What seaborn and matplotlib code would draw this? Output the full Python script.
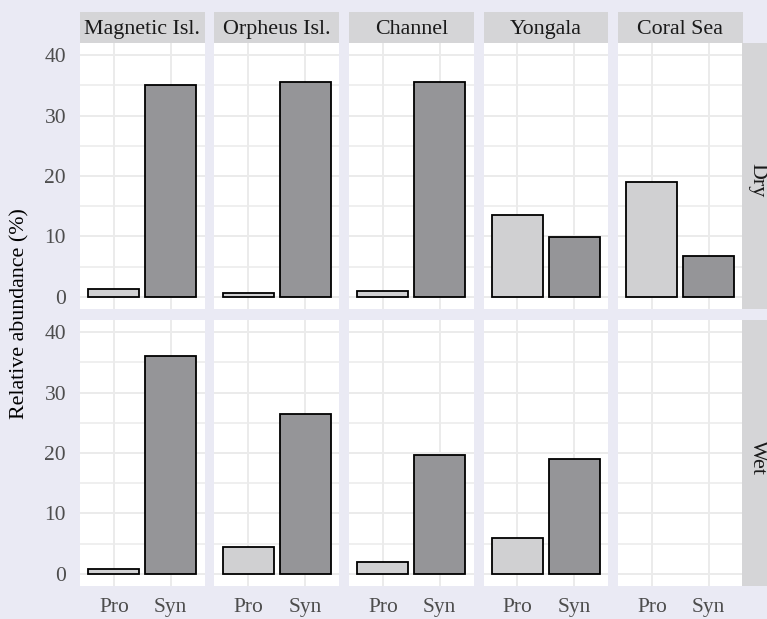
import matplotlib
matplotlib.use("Agg")
import matplotlib.pyplot as plt
import pandas as pd
import seaborn as sns
from matplotlib.ticker import MultipleLocator, FixedLocator

# Relative abundance of Prochlorococcus (Pro) and Synechococcus (Syn) by site and season
sites = ["Magnetic Isl.", "Orpheus Isl.", "Channel", "Yongala", "Coral Sea"]
seasons = ["Dry", "Wet"]
taxa = ["Pro", "Syn"]
dry_pro = [1.3, 0.7, 1.0, 13.5, 19.0]
dry_syn = [35.1, 35.6, 35.5, 9.9, 6.8]
wet_pro = [0.8, 4.4, 1.9, 5.9, None]
wet_syn = [36.0, 26.4, 19.7, 19.0, None]
y_ticks = [0, 10, 20, 30, 40]

rows = []
for season, pro, syn in (("Dry", dry_pro, dry_syn), ("Wet", wet_pro, wet_syn)):
    for site, p, s in zip(sites, pro, syn):
        if p is not None:
            rows.append({"site": site, "season": season, "taxon": "Pro", "abundance": p})
        if s is not None:
            rows.append({"site": site, "season": season, "taxon": "Syn", "abundance": s})
df = pd.DataFrame(rows)

sns.set_theme(style="white")
plt.rcParams["font.family"] = ["Liberation Serif", "DejaVu Serif"]

BG = "#EAEAF4"
STRIP = "#D5D5D7"
GRID = "#EBEBEB"
palette = {"Pro": "#D0D0D2", "Syn": "#949498"}

W, H = 767, 619
fig = plt.figure(figsize=(W / 100, H / 100), dpi=100, facecolor=BG)


def frac(x, y, w, h):
    return [x / W, (H - y - h) / H, w / W, h / H]


col_left = [80 + 134.5 * i for i in range(5)]
col_w = 124.5
row_top = [43, 320]
row_h = 266
strip_h = 31

for r, season in enumerate(seasons):
    for c, site in enumerate(sites):
        ax = fig.add_axes(frac(col_left[c], row_top[r], col_w, row_h))
        ax.set_facecolor("white")
        sub = df[(df.site == site) & (df.season == season)]
        if len(sub):
            sns.barplot(data=sub, x="taxon", y="abundance", hue="taxon",
                        order=taxa, hue_order=taxa, palette=palette,
                        width=0.9, edgecolor="black", linewidth=1.3,
                        legend=False, ax=ax, zorder=3)
        ax.set_xlim(-0.6, 1.6)
        ax.set_ylim(-2, 42)
        ax.xaxis.set_major_locator(FixedLocator([0, 1]))
        ax.yaxis.set_major_locator(FixedLocator(y_ticks))
        ax.yaxis.set_minor_locator(MultipleLocator(5))
        ax.grid(True, which="major", color=GRID, linewidth=1.4, zorder=0)
        ax.grid(True, which="minor", axis="y", color=GRID, linewidth=1.1, zorder=0)
        ax.set_axisbelow(True)
        for sp in ax.spines.values():
            sp.set_visible(False)
        ax.set_xlabel("")
        ax.set_ylabel("")
        ax.tick_params(which="minor", length=0)
        ax.tick_params(which="major", length=4, width=1.0, color="#333333",
                       labelsize=15.5, labelcolor="#4D4D4D")
        ax.tick_params(axis="y", pad=6)
        ax.tick_params(axis="x", pad=4.5)
        if c == 0:
            ax.set_yticklabels([str(t) for t in y_ticks])
        else:
            ax.tick_params(axis="y", length=0, labelleft=False)
        if r == 1:
            ax.set_xticks([0, 1])
            ax.set_xticklabels(taxa)
        else:
            ax.tick_params(axis="x", length=0, labelbottom=False)

        if r == 0:
            sax = fig.add_axes(frac(col_left[c], 12, col_w, strip_h))
            sax.set_facecolor(STRIP)
            sax.set_xticks([]); sax.set_yticks([])
            for sp in sax.spines.values():
                sp.set_visible(False)
            sax.text(0.5, 0.45, site, ha="center", va="center",
                     fontsize=15.8, color="#1A1A1A", transform=sax.transAxes)

    rax = fig.add_axes(frac(742, row_top[r], 40, row_h))
    rax.set_facecolor(STRIP)
    rax.set_xticks([]); rax.set_yticks([])
    for sp in rax.spines.values():
        sp.set_visible(False)
    fig.text(757 / W, 1 - (row_top[r] + row_h / 2 + 4) / H, season,
             ha="center", va="center", rotation=-90,
             fontsize=15.8, color="#1A1A1A")

fig.text(20 / W, 1 - 314 / H, "Relative abundance (%)", rotation=90,
         ha="center", va="center", fontsize=15.8, color="black")

fig.savefig("out.png", dpi=100, facecolor=BG)
